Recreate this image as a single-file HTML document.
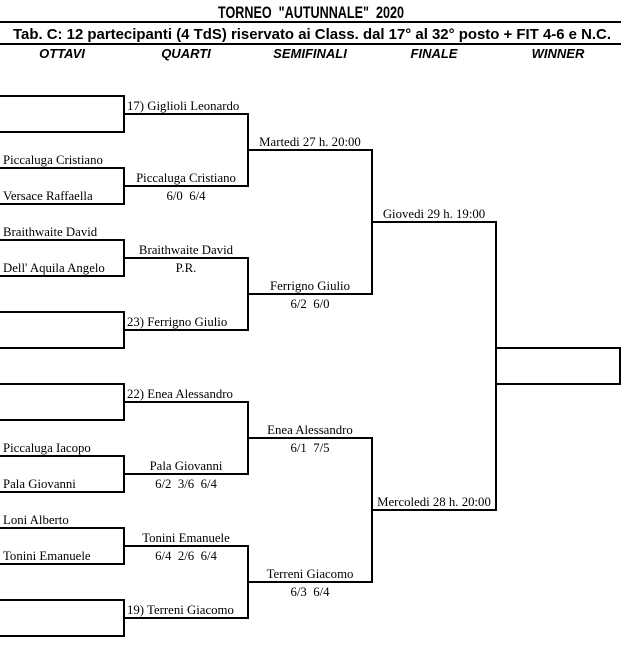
<!DOCTYPE html>
<html><head><meta charset="utf-8"><style>
html,body{margin:0;padding:0;background:#fff;width:621px;height:655px;overflow:hidden}
svg{display:block}
text{white-space:pre}
.t{font-family:"Liberation Serif",serif;font-size:12.8px;fill:#000}
.h{font-family:"Liberation Sans",sans-serif;font-weight:bold;fill:#000}
</style></head><body>
<svg width="621" height="655" viewBox="0 0 621 655" xmlns="http://www.w3.org/2000/svg" xml:space="preserve">
<text class="h" x="218" y="18" font-size="17" textLength="186" lengthAdjust="spacingAndGlyphs">TORNEO  "AUTUNNALE"  2020</text>
<rect x="0" y="21" width="621" height="2" fill="#000"/>
<text class="h" x="13" y="39" font-size="15" textLength="598" lengthAdjust="spacingAndGlyphs">Tab. C: 12 partecipanti (4 TdS) riservato ai Class. dal 17° al 32° posto + FIT 4-6 e N.C.</text>
<rect x="0" y="43" width="621" height="2" fill="#000"/>
<g class="h" font-size="13" font-style="italic" text-anchor="middle">
<text x="62" y="58">OTTAVI</text><text x="186" y="58">QUARTI</text><text x="310" y="58">SEMIFINALI</text><text x="434" y="58">FINALE</text><text x="558" y="58">WINNER</text>
</g>
<g stroke="#000" stroke-width="2" fill="none">
<path d="M0 96H124V132H0M0 168H124V204H0M0 240H124V276H0M0 312H124V348H0M0 384H124V420H0M0 456H124V492H0M0 528H124V564H0M0 600H124V636H0"/>
<path d="M124 114H248V186H124M124 258H248V330H124M124 402H248V474H124M124 546H248V618H124"/>
<path d="M248 150H372V294H248M248 438H372V582H248"/>
<path d="M372 222H496V510H372"/>
<path d="M496 348H620V384H496"/>
</g>
<g class="t">
<text x="3" y="164">Piccaluga Cristiano</text>
<text x="3" y="200">Versace Raffaella</text>
<text x="3" y="236">Braithwaite David</text>
<text x="3" y="272">Dell' Aquila Angelo</text>
<text x="3" y="452">Piccaluga Iacopo</text>
<text x="3" y="488">Pala Giovanni</text>
<text x="3" y="524">Loni Alberto</text>
<text x="3" y="560">Tonini Emanuele</text>
<text x="127" y="110">17) Giglioli Leonardo</text>
<text x="127" y="326">23) Ferrigno Giulio</text>
<text x="127" y="398">22) Enea Alessandro</text>
<text x="127" y="614">19) Terreni Giacomo</text>
</g>
<g class="t" text-anchor="middle">
<text x="186" y="182">Piccaluga Cristiano</text><text x="186" y="200">6/0  6/4</text>
<text x="186" y="254">Braithwaite David</text><text x="186" y="272">P.R.</text>
<text x="186" y="470">Pala Giovanni</text><text x="186" y="488">6/2  3/6  6/4</text>
<text x="186" y="542">Tonini Emanuele</text><text x="186" y="560">6/4  2/6  6/4</text>
<text x="310" y="146">Martedi 27 h. 20:00</text>
<text x="310" y="290">Ferrigno Giulio</text><text x="310" y="308">6/2  6/0</text>
<text x="310" y="434">Enea Alessandro</text><text x="310" y="452">6/1  7/5</text>
<text x="310" y="578">Terreni Giacomo</text><text x="310" y="596">6/3  6/4</text>
<text x="434" y="218">Giovedi 29 h. 19:00</text>
<text x="434" y="506">Mercoledi 28 h. 20:00</text>
</g>
</svg>
</body></html>
